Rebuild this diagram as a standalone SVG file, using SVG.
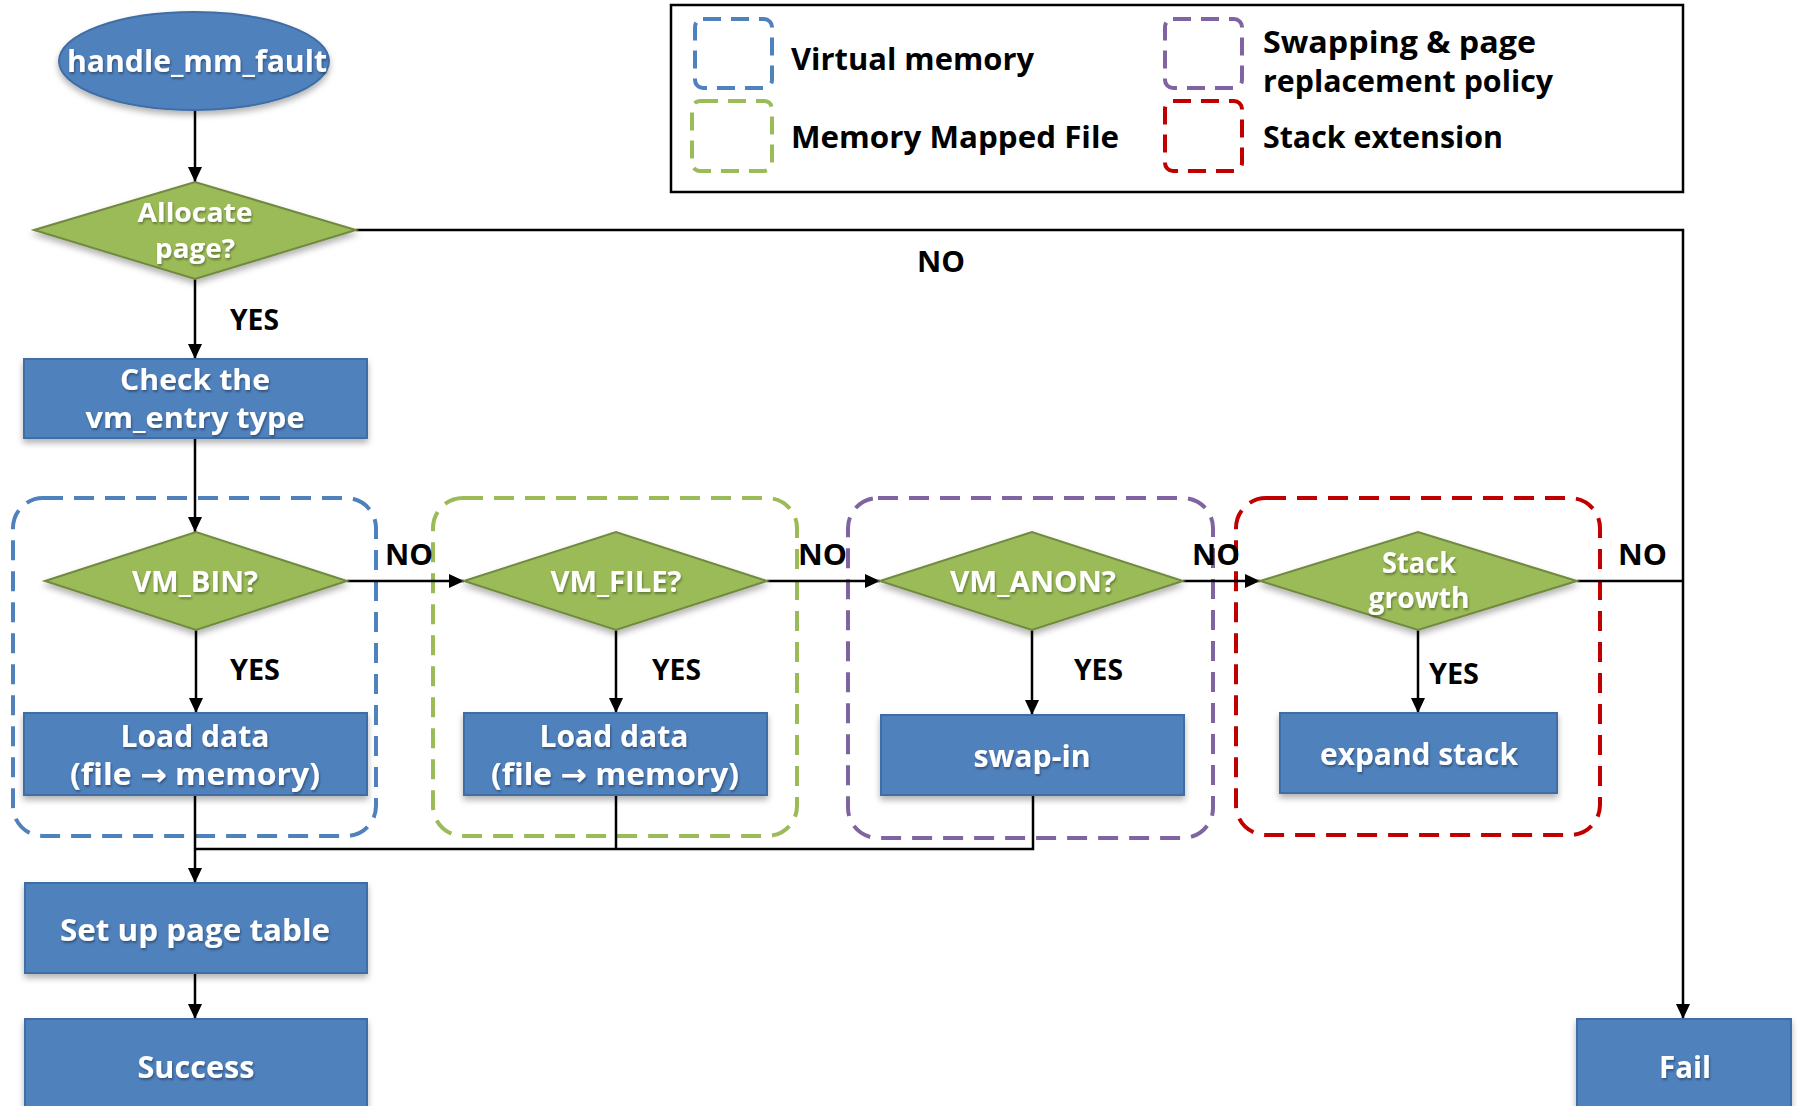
<svg xmlns="http://www.w3.org/2000/svg" width="1798" height="1106" viewBox="0 0 1798 1106">
  <style>
    .box { fill: #4F81BD; stroke: #3F6DA3; stroke-width: 2; filter: url(#shadow); }
    .dia { fill: #9BBB59; stroke: #71893F; stroke-width: 2; filter: url(#shadow); }
    .wt { font-family: "Open Sans", "Noto Sans", sans-serif; font-weight: bold; fill: #FFFFFF; text-anchor: middle; filter: url(#tshadow); }
    .ar { font-family: "DejaVu Sans", sans-serif; font-weight: bold; }
    .lbl { font-family: "Open Sans", "Noto Sans", sans-serif; font-weight: bold; fill: #000000; font-size: 28px; }
    .leg { font-family: "Open Sans", "Noto Sans", sans-serif; font-weight: bold; fill: #000000; font-size: 31px; }
    .grp { fill: none; stroke-width: 4; stroke-dasharray: 20 11; }
    .lgs { fill: none; stroke-width: 4; stroke-dasharray: 18 10; }
    .wire { fill: none; stroke: #000000; stroke-width: 2.5; }
    .arr { marker-end: url(#head); }
  </style>
  <defs>
    <marker id="head" markerUnits="userSpaceOnUse" markerWidth="16" markerHeight="14" refX="15" refY="7" orient="auto">
      <path d="M0,0 L15,7 L0,14 z" fill="#000000"/>
    </marker>
    <filter id="shadow" x="-10%" y="-10%" width="120%" height="130%">
      <feDropShadow dx="0" dy="4" stdDeviation="3" flood-color="#000000" flood-opacity="0.3"/>
    </filter>
    <filter id="tshadow" x="-10%" y="-20%" width="120%" height="150%">
      <feDropShadow dx="1" dy="2" stdDeviation="1.2" flood-color="#000000" flood-opacity="0.35"/>
    </filter>
  </defs>

  <rect width="1798" height="1106" fill="#FFFFFF"/>

  <!-- legend -->
  <g id="legend">
    <rect x="671" y="5" width="1012" height="187" fill="none" stroke="#000000" stroke-width="2.5"/>
    <rect class="lgs" x="695" y="19" width="77" height="69" rx="8" stroke="#4F81BD"/>
    <rect class="lgs" x="692" y="101" width="80" height="70" rx="8" stroke="#9BBB59"/>
    <rect class="lgs" x="1165" y="19" width="77" height="69" rx="8" stroke="#8064A2"/>
    <rect class="lgs" x="1165" y="101" width="77" height="70" rx="8" stroke="#C00000"/>
    <text class="leg" x="791" y="70" textLength="243" lengthAdjust="spacingAndGlyphs">Virtual memory</text>
    <text class="leg" x="791" y="148" textLength="328" lengthAdjust="spacingAndGlyphs">Memory Mapped File</text>
    <text class="leg" x="1263" y="53" textLength="273" lengthAdjust="spacingAndGlyphs">Swapping &amp; page</text>
    <text class="leg" x="1263" y="92" textLength="290" lengthAdjust="spacingAndGlyphs">replacement policy</text>
    <text class="leg" x="1263" y="148" textLength="240" lengthAdjust="spacingAndGlyphs">Stack extension</text>
  </g>

  <!-- dashed category frames -->
  <g id="frames">
    <rect class="grp" x="13" y="498" width="363" height="338" rx="30" stroke="#4F81BD"/>
    <rect class="grp" x="433" y="498" width="364" height="338" rx="30" stroke="#9BBB59"/>
    <rect class="grp" x="848" y="498" width="365" height="340" rx="30" stroke="#8064A2"/>
    <rect class="grp" x="1236" y="498" width="364" height="337" rx="30" stroke="#C00000"/>
  </g>

  <!-- connectors -->
  <g id="connectors">
    <path class="wire arr" d="M195,110 V182"/>
    <path class="wire arr" d="M195,279 V359"/>
    <path class="wire arr" d="M356,230 H1683 V1019"/>
    <path class="wire arr" d="M195,438 V532"/>
    <path class="wire arr" d="M347,581 H464"/>
    <path class="wire arr" d="M767,581 H880"/>
    <path class="wire arr" d="M1183,581 H1260"/>
    <path class="wire" d="M1577,581 H1683"/>
    <path class="wire arr" d="M196,630 V713"/>
    <path class="wire arr" d="M616,630 V713"/>
    <path class="wire arr" d="M1032,630 V715"/>
    <path class="wire arr" d="M1418,630 V713"/>
    <path class="wire arr" d="M195,795 V883"/>
    <path class="wire" d="M616,795 V849"/>
    <path class="wire" d="M1033,795 V849 H195"/>
    <path class="wire arr" d="M195,973 V1019"/>

    <text class="lbl" x="917" y="272" textLength="48" lengthAdjust="spacingAndGlyphs">NO</text>
    <text class="lbl" x="230" y="330" textLength="49" lengthAdjust="spacingAndGlyphs">YES</text>
    <text class="lbl" x="385" y="565" textLength="48" lengthAdjust="spacingAndGlyphs">NO</text>
    <text class="lbl" x="230" y="680" textLength="50" lengthAdjust="spacingAndGlyphs">YES</text>
    <text class="lbl" x="798" y="565" textLength="49" lengthAdjust="spacingAndGlyphs">NO</text>
    <text class="lbl" x="652" y="680" textLength="49" lengthAdjust="spacingAndGlyphs">YES</text>
    <text class="lbl" x="1192" y="565" textLength="48" lengthAdjust="spacingAndGlyphs">NO</text>
    <text class="lbl" x="1074" y="680" textLength="49" lengthAdjust="spacingAndGlyphs">YES</text>
    <text class="lbl" x="1618" y="565" textLength="49" lengthAdjust="spacingAndGlyphs">NO</text>
    <text class="lbl" x="1429" y="684" textLength="50" lengthAdjust="spacingAndGlyphs">YES</text>
  </g>

  <!-- nodes -->
  <g id="start">
    <ellipse cx="194" cy="61" rx="135" ry="49" fill="#4F81BD" stroke="#3F6DA3" stroke-width="2" filter="url(#shadow)"/>
    <text class="wt" x="197" y="72" font-size="31" textLength="260" lengthAdjust="spacingAndGlyphs">handle_mm_fault</text>
  </g>

  <g id="allocate">
    <polygon class="dia" points="34,230 195,182 356,230 195,279"/>
    <text class="wt" x="195" y="222" font-size="27" textLength="115" lengthAdjust="spacingAndGlyphs">Allocate</text>
    <text class="wt" x="195" y="258" font-size="27" textLength="80" lengthAdjust="spacingAndGlyphs">page?</text>
  </g>

  <g id="check">
    <rect class="box" x="24" y="359" width="343" height="79"/>
    <text class="wt" x="195" y="390" font-size="29" textLength="150" lengthAdjust="spacingAndGlyphs">Check the</text>
    <text class="wt" x="195" y="428" font-size="29" textLength="219" lengthAdjust="spacingAndGlyphs">vm_entry type</text>
  </g>

  <g id="vm-bin">
    <polygon class="dia" points="45,581 196,532 347,581 196,630"/>
    <text class="wt" x="195" y="592" font-size="28" textLength="126" lengthAdjust="spacingAndGlyphs">VM_BIN?</text>
  </g>

  <g id="load-bin">
    <rect class="box" x="24" y="713" width="343" height="82"/>
    <text class="wt" x="195" y="747" font-size="30" textLength="149" lengthAdjust="spacingAndGlyphs">Load data</text>
    <text class="wt" x="195" y="785" font-size="30" textLength="250" lengthAdjust="spacingAndGlyphs">(file <tspan class="ar">→</tspan> memory)</text>
  </g>

  <g id="vm-file">
    <polygon class="dia" points="464,581 616,532 767,581 616,630"/>
    <text class="wt" x="616" y="592" font-size="28" textLength="131" lengthAdjust="spacingAndGlyphs">VM_FILE?</text>
  </g>

  <g id="load-file">
    <rect class="box" x="464" y="713" width="303" height="82"/>
    <text class="wt" x="614" y="747" font-size="30" textLength="149" lengthAdjust="spacingAndGlyphs">Load data</text>
    <text class="wt" x="615" y="785" font-size="30" textLength="248" lengthAdjust="spacingAndGlyphs">(file <tspan class="ar">→</tspan> memory)</text>
  </g>

  <g id="vm-anon">
    <polygon class="dia" points="880,581 1032,532 1183,581 1032,630"/>
    <text class="wt" x="1033" y="592" font-size="28" textLength="166" lengthAdjust="spacingAndGlyphs">VM_ANON?</text>
  </g>

  <g id="swap-in">
    <rect class="box" x="881" y="715" width="303" height="80"/>
    <text class="wt" x="1032" y="767" font-size="30" textLength="117" lengthAdjust="spacingAndGlyphs">swap-in</text>
  </g>

  <g id="stack-growth">
    <polygon class="dia" points="1260,581 1418,532 1577,581 1418,630"/>
    <text class="wt" x="1419" y="573" font-size="28" textLength="74" lengthAdjust="spacingAndGlyphs">Stack</text>
    <text class="wt" x="1419" y="608" font-size="28" textLength="101" lengthAdjust="spacingAndGlyphs">growth</text>
  </g>

  <g id="expand-stack">
    <rect class="box" x="1280" y="713" width="277" height="80"/>
    <text class="wt" x="1419" y="765" font-size="30" textLength="198" lengthAdjust="spacingAndGlyphs">expand stack</text>
  </g>

  <g id="page-table">
    <rect class="box" x="25" y="883" width="342" height="90"/>
    <text class="wt" x="195" y="941" font-size="30" textLength="270" lengthAdjust="spacingAndGlyphs">Set up page table</text>
  </g>

  <g id="success">
    <rect class="box" x="25" y="1019" width="342" height="110"/>
    <text class="wt" x="196" y="1078" font-size="30" textLength="117" lengthAdjust="spacingAndGlyphs">Success</text>
  </g>

  <g id="fail">
    <rect class="box" x="1577" y="1019" width="214" height="110"/>
    <text class="wt" x="1685" y="1078" font-size="30" textLength="52" lengthAdjust="spacingAndGlyphs">Fail</text>
  </g>
</svg>
